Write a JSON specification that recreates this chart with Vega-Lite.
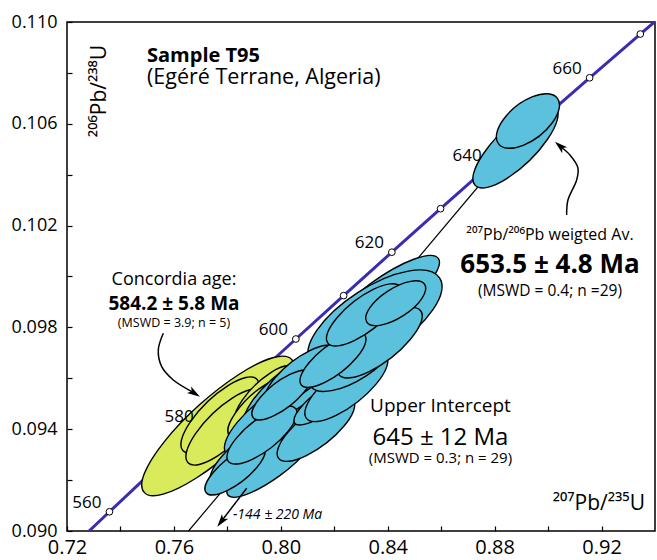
{
  "$schema": "https://vega.github.io/schema/vega-lite/v6.json",
  "width": 588,
  "height": 509,
  "autosize": {"type": "none"},
  "padding": {"left": 67, "top": 22, "right": 2, "bottom": 29},
  "config": {
    "view": {"stroke": "black", "strokeWidth": 1.5},
    "font": "Open Sans",
    "axis": {"grid": false, "domain": false, "title": null, "labelFont": "Open Sans", "labelFontSize": 18, "labelColor": "black", "tickColor": "black", "tickWidth": 1.2, "tickSize": -5, "labelFlush": false, "labelOverlap": false}
  },
  "datasets": {
    "concordia": [
      {"age": 550, "x": 0.718871, "y": 0.089064},
      {"age": 560, "x": 0.735880, "y": 0.090755},
      {"age": 570, "x": 0.753063, "y": 0.092448},
      {"age": 580, "x": 0.770413, "y": 0.094144},
      {"age": 590, "x": 0.787935, "y": 0.095843},
      {"age": 600, "x": 0.805630, "y": 0.097544},
      {"age": 610, "x": 0.823502, "y": 0.099248},
      {"age": 620, "x": 0.841548, "y": 0.100955},
      {"age": 630, "x": 0.859775, "y": 0.102663},
      {"age": 640, "x": 0.878182, "y": 0.104375},
      {"age": 650, "x": 0.896770, "y": 0.106090},
      {"age": 660, "x": 0.915543, "y": 0.107808},
      {"age": 670, "x": 0.934501, "y": 0.109527},
      {"age": 680, "x": 0.953647, "y": 0.111249}
    ],
    "discordia": [
      {"x": 0.765473, "y": 0.090000},
      {"x": 0.887453, "y": 0.105231}
    ],
    "ellipses": [
      {"group": "concordia", "kind": "D", "x": 0.77649, "y": 0.094126, "w": 0.0569},
      {"group": "concordia", "kind": "C", "x": 0.77724, "y": 0.094558, "w": 0.0292},
      {"group": "concordia", "kind": "C", "x": 0.77911, "y": 0.094086, "w": 0.0292},
      {"group": "concordia", "kind": "C", "x": 0.79407, "y": 0.095344, "w": 0.02245},
      {"group": "concordia", "kind": "C", "x": 0.79145, "y": 0.094833, "w": 0.02245},
      {"group": "discordia", "kind": "E", "x": 0.83785, "y": 0.099104, "w": 0.04300},
      {"group": "discordia", "kind": "F", "x": 0.83522, "y": 0.098293, "w": 0.05013},
      {"group": "discordia", "kind": "F", "x": 0.81166, "y": 0.095500, "w": 0.05200},
      {"group": "discordia", "kind": "A", "x": 0.79669, "y": 0.094440, "w": 0.03554},
      {"group": "discordia", "kind": "E", "x": 0.80455, "y": 0.093900, "w": 0.03700},
      {"group": "discordia", "kind": "A", "x": 0.78846, "y": 0.093026, "w": 0.02993},
      {"group": "discordia", "kind": "E", "x": 0.79632, "y": 0.092650, "w": 0.03300},
      {"group": "discordia", "kind": "A", "x": 0.78285, "y": 0.092397, "w": 0.02245},
      {"group": "discordia", "kind": "A", "x": 0.79295, "y": 0.093772, "w": 0.02619},
      {"group": "discordia", "kind": "A", "x": 0.81315, "y": 0.094000, "w": 0.02900},
      {"group": "discordia", "kind": "E", "x": 0.81839, "y": 0.095250, "w": 0.02700},
      {"group": "discordia", "kind": "A", "x": 0.82450, "y": 0.095650, "w": 0.03100},
      {"group": "discordia", "kind": "F", "x": 0.82737, "y": 0.096804, "w": 0.03367},
      {"group": "discordia", "kind": "A", "x": 0.83700, "y": 0.097400, "w": 0.03180},
      {"group": "discordia", "kind": "A", "x": 0.80754, "y": 0.096130, "w": 0.02694},
      {"group": "discordia", "kind": "A", "x": 0.80043, "y": 0.095344, "w": 0.02245},
      {"group": "discordia", "kind": "A", "x": 0.81951, "y": 0.096719, "w": 0.02469},
      {"group": "discordia", "kind": "A", "x": 0.83112, "y": 0.098493, "w": 0.02806},
      {"group": "discordia", "kind": "F", "x": 0.84300, "y": 0.098950, "w": 0.02245},
      {"group": "discordia", "kind": "C", "x": 0.88779, "y": 0.105108, "w": 0.03180},
      {"group": "discordia", "kind": "B", "x": 0.89246, "y": 0.106110, "w": 0.02357}
    ],
    "arrows": [
      {"arrow": "a1", "i": 0, "x": 0.75603, "y": 0.097768},
      {"arrow": "a1", "i": 1, "x": 0.75416, "y": 0.097112},
      {"arrow": "a1", "i": 2, "x": 0.75543, "y": 0.096456},
      {"arrow": "a1", "i": 3, "x": 0.75977, "y": 0.095933},
      {"arrow": "a1", "i": 4, "x": 0.76770, "y": 0.095415},
      {"arrow": "a2", "i": 0, "x": 0.90694, "y": 0.102417},
      {"arrow": "a2", "i": 1, "x": 0.90743, "y": 0.103006},
      {"arrow": "a2", "i": 2, "x": 0.91068, "y": 0.103792},
      {"arrow": "a2", "i": 3, "x": 0.91117, "y": 0.104263},
      {"arrow": "a2", "i": 4, "x": 0.90818, "y": 0.104774},
      {"arrow": "a2", "i": 5, "x": 0.90440, "y": 0.105128},
      {"arrow": "a3", "i": 0, "x": 0.78723, "y": 0.091678},
      {"arrow": "a3", "i": 1, "x": 0.77769, "y": 0.090373}
    ]
  },
  "encoding": {
    "x": {"field": "x", "type": "quantitative", "scale": {"domain": [0.72, 0.94], "nice": false, "zero": false},
      "axis": {"values": [0.72, 0.74, 0.76, 0.78, 0.80, 0.82, 0.84, 0.86, 0.88, 0.90, 0.92], "labelExpr": "(round(datum.value*100) - 72) % 4 == 0 ? format(datum.value, '.2f') : ''", "labelPadding": 11, "labelFontSize": 20}},
    "y": {"field": "y", "type": "quantitative", "scale": {"domain": [0.09, 0.11], "nice": false, "zero": false},
      "axis": {"values": [0.090, 0.092, 0.094, 0.096, 0.098, 0.100, 0.102, 0.104, 0.106, 0.108, 0.110], "labelExpr": "(round(datum.value*1000) - 90) % 4 == 0 ? format(datum.value, '.3f') : ''", "labelPadding": 15}}
  },
  "layer": [
    {"data": {"name": "concordia"}, "mark": {"type": "line", "color": "#3a2db0", "strokeWidth": 3, "clip": true}},
    {"data": {"name": "concordia"}, "transform": [{"filter": "datum.age >= 560 && datum.age <= 670"}],
      "mark": {"type": "point", "shape": "circle", "size": 45, "filled": true, "fill": "white", "stroke": "black", "strokeWidth": 1, "opacity": 1}},
    {"data": {"name": "discordia"}, "mark": {"type": "line", "color": "black", "strokeWidth": 1.2, "clip": true}},
    {"data": {"name": "ellipses"},
      "mark": {"type": "point", "filled": true, "stroke": "black", "strokeWidth": 1.4, "opacity": 1, "fillOpacity": 1, "strokeOpacity": 1},
      "encoding": {
        "fill": {"field": "group", "type": "nominal", "scale": {"domain": ["concordia", "discordia"], "range": ["#d9ea5b", "#5cc1dc"]}, "legend": null},
        "shape": {"field": "kind", "type": "nominal", "legend": null, "scale": {"domain": ["A", "B", "C", "D", "E", "F"], "range": [
          "M 0.9626 -0.7521 A 1.2216 0.4398 -38 1 0 -0.9626 0.7521 A 1.2216 0.4398 -38 1 0 0.9626 -0.7521 Z",
          "M 0.9314 -0.7277 A 1.182 0.591 -38 1 0 -0.9314 0.7277 A 1.182 0.591 -38 1 0 0.9314 -0.7277 Z",
          "M 0.9473 -0.9149 A 1.317 0.461 -44 1 0 -0.9473 0.9149 A 1.317 0.461 -44 1 0 0.9473 -0.9149 Z",
          "M 0.9696 -0.873 A 1.3048 0.3653 -42 1 0 -0.9696 0.873 A 1.3048 0.3653 -42 1 0 0.9696 -0.873 Z",
          "M 0.9799 -0.7119 A 1.2112 0.3391 -36 1 0 -0.9799 0.7119 A 1.2112 0.3391 -36 1 0 0.9799 -0.7119 Z",
          "M 0.9648 -0.6265 A 1.1503 0.4831 -33 1 0 -0.9648 0.6265 A 1.1503 0.4831 -33 1 0 0.9648 -0.6265 Z"
        ]}},
        "size": {"field": "w", "type": "quantitative", "legend": null, "scale": {"type": "pow", "exponent": 2, "domain": [0, 0.1], "range": [0, 71449]}}
      }},
    {"data": {"name": "concordia"}, "transform": [{"filter": "datum.age % 20 == 0 && datum.age >= 560 && datum.age <= 660"}],
      "mark": {"type": "text", "align": "right", "baseline": "middle", "dx": -8, "dy": -9, "fontSize": 17, "color": "black"},
      "encoding": {"text": {"field": "age", "type": "nominal"}}},
    {"data": {"name": "arrows"}, "mark": {"type": "line", "color": "black", "strokeWidth": 1.5, "interpolate": "catmull-rom"},
      "encoding": {"detail": {"field": "arrow"}, "order": {"field": "i", "type": "quantitative"}}},
    {"data": {"values": [{"x": 0.76770, "y": 0.095415}]}, "mark": {"type": "point", "shape": "M 1 0 L -1 -0.6 L -0.5 0 L -1 0.6 Z", "size": 169, "angle": 32, "filled": true, "fill": "black", "opacity": 1}},
    {"data": {"values": [{"x": 0.90440, "y": 0.105128}]}, "mark": {"type": "point", "shape": "M 1 0 L -1 -0.6 L -0.5 0 L -1 0.6 Z", "size": 169, "angle": 221, "filled": true, "fill": "black", "opacity": 1}},
    {"data": {"values": [{"x": 0.77769, "y": 0.090373}]}, "mark": {"type": "point", "shape": "M 1 0 L -1 -0.6 L -0.5 0 L -1 0.6 Z", "size": 169, "angle": 127, "filled": true, "fill": "black", "opacity": 1}},
    {"data": {"values": [{"x": 0.74993, "y": 0.108428, "text": "Sample T95"}]},
      "mark": {"type": "text", "align": "left", "baseline": "alphabetic", "fontSize": 20, "fontWeight": "bold", "color": "black"},
      "encoding": {"text": {"field": "text"}}},
    {"data": {"values": [{"x": 0.74993, "y": 0.107563, "text": "(Egéré Terrane, Algeria)"}]},
      "mark": {"type": "text", "align": "left", "baseline": "alphabetic", "fontSize": 21.5, "color": "black"},
      "encoding": {"text": {"field": "text"}}},
    {"data": {"values": [{"x": 0.73235, "y": 0.107289, "text": "²⁰⁶Pb/²³⁸U"}]},
      "mark": {"type": "text", "align": "center", "baseline": "middle", "angle": 270, "fontSize": 21, "color": "black", "font": "Open Sans, DejaVu Sans"},
      "encoding": {"text": {"field": "text"}}},
    {"data": {"values": [{"x": 0.93624, "y": 0.090825, "text": "²⁰⁷Pb/²³⁵U"}]},
      "mark": {"type": "text", "align": "right", "baseline": "alphabetic", "fontSize": 21, "color": "black", "font": "Open Sans, DejaVu Sans"},
      "encoding": {"text": {"field": "text"}}},
    {"data": {"values": [{"x": 0.76003, "y": 0.099666, "text": "Concordia age:"}]},
      "mark": {"type": "text", "align": "center", "baseline": "alphabetic", "fontSize": 18, "color": "black"},
      "encoding": {"text": {"field": "text"}}},
    {"data": {"values": [{"x": 0.76003, "y": 0.098684, "text": "584.2 ± 5.8 Ma"}]},
      "mark": {"type": "text", "align": "center", "baseline": "alphabetic", "fontSize": 19, "fontWeight": "bold", "color": "black"},
      "encoding": {"text": {"field": "text"}}},
    {"data": {"values": [{"x": 0.76003, "y": 0.098035, "text": "(MSWD = 3.9; n = 5)"}]},
      "mark": {"type": "text", "align": "center", "baseline": "alphabetic", "fontSize": 12.5, "color": "black"},
      "encoding": {"text": {"field": "text"}}},
    {"data": {"values": [{"x": 0.85973, "y": 0.094688, "text": "Upper Intercept"}]},
      "mark": {"type": "text", "align": "center", "baseline": "alphabetic", "fontSize": 19, "color": "black"},
      "encoding": {"text": {"field": "text"}}},
    {"data": {"values": [{"x": 0.85973, "y": 0.093379, "text": "645 ± 12 Ma"}]},
      "mark": {"type": "text", "align": "center", "baseline": "alphabetic", "fontSize": 24, "color": "black"},
      "encoding": {"text": {"field": "text"}}},
    {"data": {"values": [{"x": 0.85973, "y": 0.092691, "text": "(MSWD = 0.3; n = 29)"}]},
      "mark": {"type": "text", "align": "center", "baseline": "alphabetic", "fontSize": 15, "color": "black"},
      "encoding": {"text": {"field": "text"}}},
    {"data": {"values": [{"x": 0.90070, "y": 0.101434, "text": "²⁰⁷Pb/²⁰⁶Pb weigted Av."}]},
      "mark": {"type": "text", "align": "center", "baseline": "alphabetic", "fontSize": 16, "color": "black", "font": "Open Sans, DejaVu Sans"},
      "encoding": {"text": {"field": "text"}}},
    {"data": {"values": [{"x": 0.90070, "y": 0.100138, "text": "653.5 ± 4.8 Ma"}]},
      "mark": {"type": "text", "align": "center", "baseline": "alphabetic", "fontSize": 26, "fontWeight": "bold", "color": "black"},
      "encoding": {"text": {"field": "text"}}},
    {"data": {"values": [{"x": 0.90070, "y": 0.099234, "text": "(MSWD = 0.4; n =29)"}]},
      "mark": {"type": "text", "align": "center", "baseline": "alphabetic", "fontSize": 15.5, "color": "black"},
      "encoding": {"text": {"field": "text"}}},
    {"data": {"values": [{"x": 0.78210, "y": 0.090472, "text": "-144 ± 220 Ma"}]},
      "mark": {"type": "text", "align": "left", "baseline": "alphabetic", "fontSize": 14, "fontStyle": "italic", "color": "black"},
      "encoding": {"text": {"field": "text"}}}
  ]
}
